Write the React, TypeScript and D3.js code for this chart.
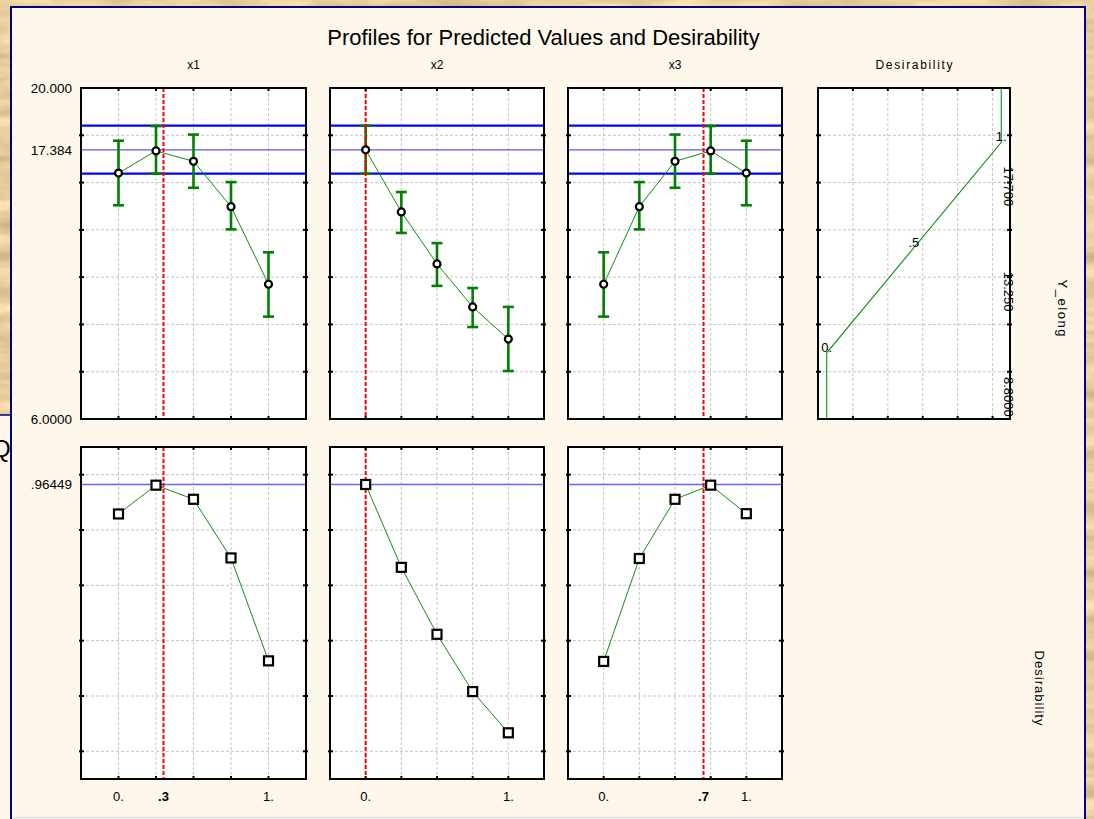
import React from 'react';
import * as d3 from 'd3';

// ---- data ----
const factors = ['x1', 'x2', 'x3'];
const levels = [0, 0.25, 0.5, 0.75, 1];
const currentSetting = [0.3, 0, 0.7];
const axisTickLabels = [
  [{ v: 0, t: '0.' }, { v: 0.3, t: '.3', bold: true }, { v: 1, t: '1.' }],
  [{ v: 0, t: '0.' }, { v: 1, t: '1.' }],
  [{ v: 0, t: '0.' }, { v: 0.7, t: '.7', bold: true }, { v: 1, t: '1.' }],
];

// predicted Y_elong with confidence limits at each level
const predX1 = [16.40, 17.34, 16.90, 14.98, 11.70];
const lowX1 = [15.04, 16.38, 15.78, 14.02, 10.33];
const highX1 = [17.77, 18.39, 18.03, 16.02, 13.05];
const predX2 = [17.384, 14.76, 12.56, 10.74, 9.38];
const lowX2 = [16.375, 13.87, 11.63, 9.89, 8.03];
const highX2 = [18.41, 15.60, 13.44, 11.54, 10.74];
const predX3 = [11.70, 14.98, 16.90, 17.34, 16.40];
const lowX3 = [10.33, 14.02, 15.78, 16.38, 15.04];
const highX3 = [13.05, 16.02, 18.03, 18.39, 17.77];

// desirability at each level
const desX1 = [0.858, 0.962, 0.911, 0.699, 0.327];
const desX2 = [0.9645, 0.665, 0.423, 0.216, 0.067];
const desX3 = [0.325, 0.697, 0.911, 0.962, 0.859];

const predDomain = [6, 20];
const predGrid = [8, 10, 12, 14, 16, 18];
const predLabels = [{ v: 20, t: '20.000' }, { v: 17.384, t: '17.384' }, { v: 6, t: '6.0000' }];
const optimumPred = 17.384;
const optimumLow = 16.375;
const optimumHigh = 18.41;

const desDomain = [-0.1, 1.1];
const desGrid = [0, 0.2, 0.4, 0.6, 0.8, 1];
const optimumDes = 0.96449;
const optimumDesLabel = '.96449';

// desirability function for Y_elong
const desFnY = [6, 8.8, 17.7, 20];
const desFnD = [0, 0, 1, 1];
const desFnDomain = [-0.05, 1.05];
const desFnGrid = [0.15, 0.35, 0.55, 0.75, 0.95];
const desFnPointLabels = [{ y: 8.8, d: 0, t: '0.' }, { y: 13.25, d: 0.5, t: '.5' }, { y: 17.7, d: 1, t: '1.' }];
const desFnAxisLabels = [{ v: 17.7, t: '17.700' }, { v: 13.25, t: '13.250' }, { v: 8.8, t: '8.8000' }];

const preds = [predX1, predX2, predX3];
const lows = [lowX1, lowX2, lowX3];
const highs = [highX1, highX2, highX3];
const dess = [desX1, desX2, desX3];

// ---- layout ----
const W = 1094;
const H = 819;
const FONT = '"Liberation Sans", Arial, sans-serif';
const panelX: [number, number][] = [[81, 306], [330, 544], [568, 782]];
const topRow: [number, number] = [88, 419];
const botRow: [number, number] = [447, 779];
const desPanelX: [number, number] = [818, 1010];

const GRID = '#c4c4c4';
const GREEN = '#008000';

function Ticks({ x0, x1, y0, y1, xs, ys }: { x0: number; x1: number; y0: number; y1: number; xs: number[]; ys: number[] }) {
  const L = 3;
  return (
    <g stroke="#000" strokeWidth={2}>
      {xs.map((x, i) => (
        <g key={'x' + i}>
          <line x1={x} x2={x} y1={y0 - 1} y2={y0 + L} />
          <line x1={x} x2={x} y1={y1 + 1} y2={y1 - L} />
        </g>
      ))}
      {ys.map((y, i) => (
        <g key={'y' + i}>
          <line x1={x0 - 2} x2={x0 + L} y1={y} y2={y} />
          <line x1={x1 + 2} x2={x1 - L} y1={y} y2={y} />
        </g>
      ))}
    </g>
  );
}

function FactorColumn({ idx }: { idx: number }) {
  const [px0, px1] = panelX[idx];
  const x = d3.scaleLinear().domain([-0.25, 1.25]).range([px0, px1]);
  const yT = d3.scaleLinear().domain(predDomain).range([topRow[1], topRow[0]]);
  const yB = d3.scaleLinear().domain(desDomain).range([botRow[1], botRow[0]]);
  const pred = preds[idx];
  const low = lows[idx];
  const high = highs[idx];
  const des = dess[idx];
  const predLine = d3.line<number>().x((_, i) => x(levels[i])).y((d) => yT(d))(pred) || '';
  const desLine = d3.line<number>().x((_, i) => x(levels[i])).y((d) => yB(d))(des) || '';
  const cx = x(currentSetting[idx]);
  const xs = levels.map((l) => x(l));
  const cap = 5.5;

  return (
    <g>
      <text x={(px0 + px1) / 2} y={69} textAnchor="middle" fontSize={12} fontFamily={FONT}>{factors[idx]}</text>

      {/* predicted values */}
      <rect x={px0} y={topRow[0]} width={px1 - px0} height={topRow[1] - topRow[0]} fill="#fff" />
      <g stroke={GRID} strokeWidth={1} strokeDasharray="3,2">
        {xs.map((v, i) => <line key={i} x1={v} x2={v} y1={topRow[0]} y2={topRow[1]} />)}
        {predGrid.map((g, i) => <line key={i} x1={px0} x2={px1} y1={yT(g)} y2={yT(g)} />)}
      </g>
      <line x1={px0} x2={px1} y1={yT(optimumHigh)} y2={yT(optimumHigh)} stroke="#0000ff" strokeWidth={2.2} />
      <line x1={px0} x2={px1} y1={yT(optimumLow)} y2={yT(optimumLow)} stroke="#0000ff" strokeWidth={2.2} />
      <line x1={px0} x2={px1} y1={yT(optimumPred)} y2={yT(optimumPred)} stroke="#5858ff" strokeWidth={1.3} />
      <g stroke={GREEN} strokeWidth={2.6}>
        {pred.map((_, i) => (
          <g key={i}>
            <line x1={xs[i]} x2={xs[i]} y1={yT(low[i])} y2={yT(high[i])} />
            <line x1={xs[i] - cap} x2={xs[i] + cap} y1={yT(low[i])} y2={yT(low[i])} />
            <line x1={xs[i] - cap} x2={xs[i] + cap} y1={yT(high[i])} y2={yT(high[i])} />
          </g>
        ))}
      </g>
      <line x1={cx} x2={cx} y1={topRow[0]} y2={topRow[1]} stroke="#ff0000" strokeWidth={2} strokeDasharray="4,2" />
      <path d={predLine} fill="none" stroke="#109010" strokeWidth={1} />
      {pred.map((p, i) => (
        <circle key={i} cx={xs[i]} cy={yT(p)} r={3.5} fill="#fff" stroke="#000" strokeWidth={2.2} />
      ))}
      <rect x={px0} y={topRow[0]} width={px1 - px0} height={topRow[1] - topRow[0]} fill="none" stroke="#000" strokeWidth={2} />
      <Ticks x0={px0} x1={px1} y0={topRow[0]} y1={topRow[1]} xs={xs} ys={predGrid.map((g) => yT(g))} />

      {/* desirability */}
      <rect x={px0} y={botRow[0]} width={px1 - px0} height={botRow[1] - botRow[0]} fill="#fff" />
      <g stroke={GRID} strokeWidth={1} strokeDasharray="3,2">
        {xs.map((v, i) => <line key={i} x1={v} x2={v} y1={botRow[0]} y2={botRow[1]} />)}
        {desGrid.map((g, i) => <line key={i} x1={px0} x2={px1} y1={yB(g)} y2={yB(g)} />)}
      </g>
      <line x1={px0} x2={px1} y1={yB(optimumDes)} y2={yB(optimumDes)} stroke="#6464ff" strokeWidth={1.5} />
      <line x1={cx} x2={cx} y1={botRow[0]} y2={botRow[1]} stroke="#ff0000" strokeWidth={2} strokeDasharray="4,2" />
      <path d={desLine} fill="none" stroke="#109010" strokeWidth={1} />
      {des.map((d, i) => (
        <rect key={i} x={xs[i] - 4.5} y={yB(d) - 4.5} width={9} height={9} fill="#fff" stroke="#000" strokeWidth={2.2} />
      ))}
      <rect x={px0} y={botRow[0]} width={px1 - px0} height={botRow[1] - botRow[0]} fill="none" stroke="#000" strokeWidth={2} />
      <Ticks x0={px0} x1={px1} y0={botRow[0]} y1={botRow[1]} xs={xs} ys={desGrid.map((g) => yB(g))} />

      {axisTickLabels[idx].map((l, i) => (
        <text key={i} x={x(l.v)} y={801} textAnchor="middle" fontSize={13} fontFamily={FONT}
          fontWeight={(l as any).bold ? 'bold' : 'normal'}>{l.t}</text>
      ))}
    </g>
  );
}

function DesirabilityPanel() {
  const [px0, px1] = desPanelX;
  const x = d3.scaleLinear().domain(desFnDomain).range([px0, px1]);
  const y = d3.scaleLinear().domain(predDomain).range([topRow[1], topRow[0]]);
  const path = d3.line<number>().x((d) => x(d)).y((_, i) => y(desFnY[i]))(desFnD) || '';
  const xs = desFnGrid.map((g) => x(g));
  const ys = predGrid.map((g) => y(g));
  return (
    <g>
      <text x={(px0 + px1) / 2} y={69} textAnchor="middle" fontSize={12} fontFamily={FONT} textLength={77} lengthAdjust="spacing">Desirability</text>
      <rect x={px0} y={topRow[0]} width={px1 - px0} height={topRow[1] - topRow[0]} fill="#fff" />
      <g stroke={GRID} strokeWidth={1} strokeDasharray="3,2">
        {xs.map((v, i) => <line key={i} x1={v} x2={v} y1={topRow[0]} y2={topRow[1]} />)}
        {ys.map((v, i) => <line key={i} x1={px0} x2={px1} y1={v} y2={v} />)}
      </g>
      <path d={path} fill="none" stroke="#109010" strokeWidth={1.1} />
      {desFnPointLabels.map((l, i) => (
        <text key={i} x={x(l.d) - 5.5} y={y(l.y) - 1} fontSize={13} fontFamily={FONT}>{l.t}</text>
      ))}
      <rect x={px0} y={topRow[0]} width={px1 - px0} height={topRow[1] - topRow[0]} fill="none" stroke="#000" strokeWidth={2} />
      <Ticks x0={px0} x1={px1} y0={topRow[0]} y1={topRow[1]} xs={xs} ys={ys} />
      {desFnAxisLabels.map((l, i) => {
        const cy = Math.min(y(l.v) + 44, topRow[1] - 21);
        return (
          <text key={i} transform={`translate(1004,${cy}) rotate(90)`} textAnchor="middle" fontSize={13} fontFamily={FONT}>{l.t}</text>
        );
      })}
    </g>
  );
}

export default function App() {
  const yPred = d3.scaleLinear().domain(predDomain).range([topRow[1], topRow[0]]);
  const yDes = d3.scaleLinear().domain(desDomain).range([botRow[1], botRow[0]]);
  return (
    <svg width={W} height={H} viewBox={`0 0 ${W} ${H}`}
      style={{ position: 'absolute', left: 0, top: 0, display: 'block' }}>
      <defs>
        <filter id="parchment" x="0" y="0" width={W} height={H} filterUnits="userSpaceOnUse"
          colorInterpolationFilters="sRGB">
          <feTurbulence type="fractalNoise" baseFrequency="0.012 0.06" numOctaves={4} seed={7} />
          <feColorMatrix type="matrix" values="0.34 0 0 0 0.74  0.34 0 0 0 0.63  0.34 0 0 0 0.45  0 0 0 0 1" />
        </filter>
        <clipPath id="leftStrip"><rect x={0} y={416} width={10} height={H - 416} /></clipPath>
      </defs>

      {/* desktop backdrop */}
      <rect x={0} y={0} width={W} height={H} fill="#e6cfa2" />
      <rect x={0} y={0} width={W} height={H} filter="url(#parchment)" />
      {/* window partly hidden on the left */}
      <rect x={0} y={415} width={11} height={H - 415} fill="#fdf8eb" />
      <line x1={0} x2={11} y1={415} y2={415} stroke="#000080" strokeWidth={1.5} />
      <text x={-8} y={457} fontSize={24} fontFamily={FONT} clipPath="url(#leftStrip)">Q</text>

      {/* graph window */}
      <rect x={10} y={7} width={1076} height={H - 7} fill="#fdf8eb" />
      <line x1={11} x2={11} y1={7} y2={H} stroke="#000080" strokeWidth={2} />
      <line x1={10} x2={1086} y1={7} y2={7} stroke="#000080" strokeWidth={2} />
      <line x1={1085} x2={1085} y1={7} y2={H} stroke="#000080" strokeWidth={2} />
      <line x1={12} x2={1084} y1={817.5} y2={817.5} stroke="#dcdcdc" strokeWidth={1} />
      <rect x={12} y={818} width={1072} height={1} fill="#f6f4ef" />

      <text x={543.5} y={45} textAnchor="middle" fontSize={22} fontFamily={FONT}>Profiles for Predicted Values and Desirability</text>

      {factors.map((_, i) => <FactorColumn key={i} idx={i} />)}
      <DesirabilityPanel />

      {/* value labels on the left */}
      {predLabels.map((l, i) => (
        <text key={i} x={72} y={yPred(l.v) + 5} textAnchor="end" fontSize={13.5} fontFamily={FONT}>{l.t}</text>
      ))}
      <text x={72} y={yDes(optimumDes) + 5} textAnchor="end" fontSize={13.5} fontFamily={FONT}>{optimumDesLabel}</text>

      {/* response names on the right */}
      <text transform="translate(1058,308) rotate(90)" textAnchor="middle" fontSize={13} fontFamily={FONT} textLength={57} lengthAdjust="spacing">Y_elong</text>
      <text transform="translate(1035,688) rotate(90)" textAnchor="middle" fontSize={13} fontFamily={FONT} textLength={75} lengthAdjust="spacing">Desirability</text>
    </svg>
  );
}
